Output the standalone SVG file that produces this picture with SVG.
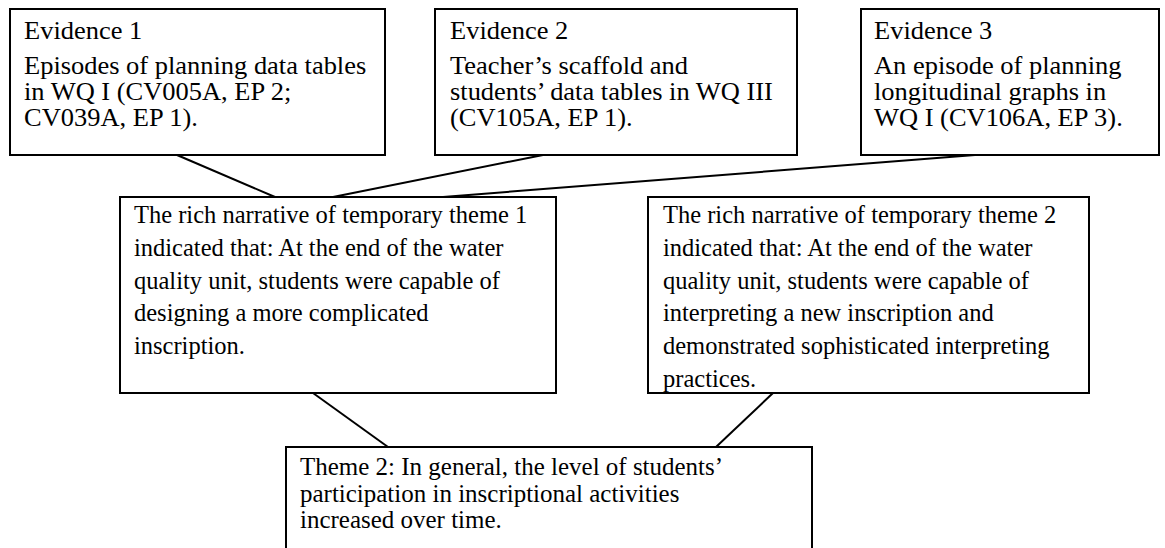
<svg xmlns="http://www.w3.org/2000/svg" width="1165" height="548" viewBox="0 0 1165 548">
  <style>
    .box { fill: #ffffff; stroke: #000000; stroke-width: 2; }
    .txt { font-family: "Liberation Serif", "Times New Roman", serif; font-size: 24.5px; fill: #000000; }
    .link { stroke: #000000; stroke-width: 2; fill: none; }
  </style>
  <rect width="1165" height="548" fill="#ffffff"/>

  <g id="connectors">
    <line class="link" x1="177" y1="155" x2="275" y2="197"/>
    <line class="link" x1="543" y1="155" x2="333" y2="197"/>
    <line class="link" x1="975" y1="155" x2="443" y2="197"/>
    <line class="link" x1="313" y1="393" x2="388" y2="447"/>
    <line class="link" x1="773" y1="393" x2="716" y2="447"/>
  </g>

  <!-- evidence boxes: text set a little wider than the rest -->
  <g id="evidence1">
    <rect class="box" x="10" y="9" width="375" height="146"/>
    <text class="txt" transform="translate(24,39) scale(1.08,1)">Evidence 1</text>
    <text class="txt" transform="translate(24,73.5) scale(1.08,1)">Episodes of planning data tables</text>
    <text class="txt" transform="translate(24,100) scale(1.08,1)">in WQ I (CV005A, EP 2;</text>
    <text class="txt" transform="translate(24,126) scale(1.08,1)">CV039A, EP 1).</text>
  </g>

  <g id="evidence2">
    <rect class="box" x="435" y="9" width="362" height="146"/>
    <text class="txt" transform="translate(450,39) scale(1.08,1)">Evidence 2</text>
    <text class="txt" transform="translate(450,73.5) scale(1.08,1)">Teacher’s scaffold and</text>
    <text class="txt" transform="translate(450,100) scale(1.08,1)">students’ data tables in WQ III</text>
    <text class="txt" transform="translate(450,126) scale(1.08,1)">(CV105A, EP 1).</text>
  </g>

  <g id="evidence3">
    <rect class="box" x="861" y="9" width="298" height="146"/>
    <text class="txt" transform="translate(874,39) scale(1.08,1)">Evidence 3</text>
    <text class="txt" transform="translate(874,73.5) scale(1.08,1)">An episode of planning</text>
    <text class="txt" transform="translate(874,100) scale(1.08,1)">longitudinal graphs in</text>
    <text class="txt" transform="translate(874,126) scale(1.08,1)">WQ I (CV106A, EP 3).</text>
  </g>

  <g id="narrative1">
    <rect class="box" x="120" y="197" width="436" height="196"/>
    <text class="txt" x="134" y="223">The rich narrative of temporary theme 1</text>
    <text class="txt" x="134" y="255.8">indicated that: At the end of the water</text>
    <text class="txt" x="134" y="288.6">quality unit, students were capable of</text>
    <text class="txt" x="134" y="321.4">designing a more complicated</text>
    <text class="txt" x="134" y="354.2">inscription.</text>
  </g>

  <g id="narrative2">
    <rect class="box" x="648" y="197" width="441" height="196"/>
    <text class="txt" x="663" y="223">The rich narrative of temporary theme 2</text>
    <text class="txt" x="663" y="255.8">indicated that: At the end of the water</text>
    <text class="txt" x="663" y="288.6">quality unit, students were capable of</text>
    <text class="txt" x="663" y="321.4">interpreting a new inscription and</text>
    <text class="txt" x="663" y="354.2">demonstrated sophisticated interpreting</text>
    <text class="txt" x="663" y="387">practices.</text>
  </g>

  <g id="theme2">
    <rect class="box" x="286" y="447" width="526" height="120"/>
    <text class="txt" transform="translate(300,475) scale(1.02,1)">Theme 2: In general, the level of students’</text>
    <text class="txt" transform="translate(300,501.5) scale(1.02,1)">participation in inscriptional activities</text>
    <text class="txt" transform="translate(300,528) scale(1.02,1)">increased over time.</text>
  </g>
</svg>
